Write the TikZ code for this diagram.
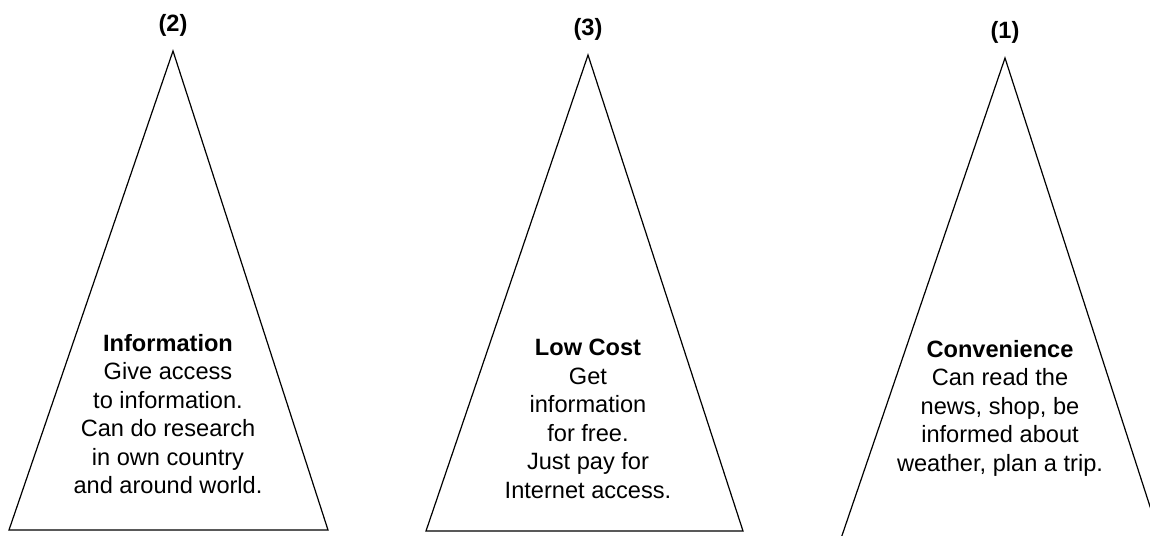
\documentclass[tikz,border=0pt]{standalone}
\usepackage{fontspec}
\setmainfont{Liberation Sans}
\usetikzlibrary{positioning}

\begin{document}
\begin{tikzpicture}[x=0.5pt, y=-0.5pt,
					every node/.style={font=\fontsize{11.8}{14.25}\selectfont, align=center, inner sep=0pt},
					rank/.style={font=\fontsize{11.8}{14.25}\selectfont\bfseries},
					peak/.style={draw, line width=0.6pt, line join=miter}]

	\useasboundingbox (0,0) rectangle (1150,535);
	\clip (0,0) rectangle (1150,535);

	% corners of the three triangles
	\coordinate (top2) at (173,51);
	\coordinate (left2) at (9,530);
	\coordinate (right2) at (328,530);
	\coordinate (top3) at (588,55);
	\coordinate (left3) at (426,531);
	\coordinate (right3) at (743,531);
	\coordinate (top1) at (1005,58);
	\coordinate (left1) at (835,556);
	\coordinate (right1) at (1166,556);

	\draw[peak] (top2) -- (left2) -- (right2) -- cycle;
	\draw[peak] (top3) -- (left3) -- (right3) -- cycle;
	\draw[peak] (top1) -- (left1) -- (right1) -- cycle;

	\node[rank, above=7pt of top2] (num2) {(2)};
	\node[rank, above=7pt of top3] (num3) {(3)};
	\node[rank, above=7pt of top1] (num1) {(1)};

	\node (info) at (168,414) {\textbf{Information}\\Give access\\to information.\\Can do research\\in own country\\and around world.};
	\node (cost) at (588,419) {\textbf{Low Cost}\\Get\\information\\for free.\\Just pay for\\Internet access.};
	\node (conv) at (1000,408) {\textbf{Convenience}\\Can read the\\news, shop, be\\informed about\\weather, plan a trip.};
\end{tikzpicture}
\end{document}
